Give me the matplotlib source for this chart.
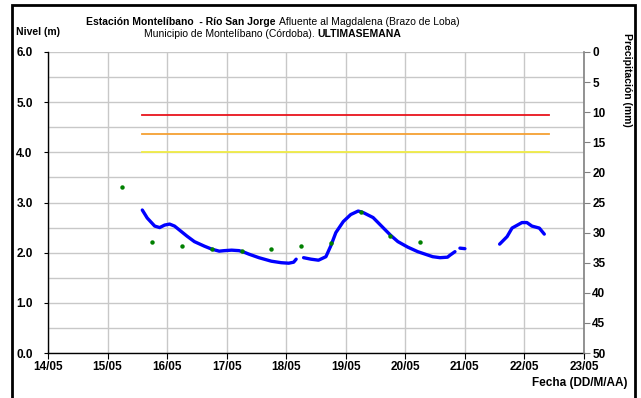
import numpy as np
import pandas as pd
import matplotlib
matplotlib.use("Agg")
import matplotlib.pyplot as plt
import matplotlib.dates as mdates
from matplotlib.patches import Rectangle

plt.rcParams['font.family'] = ['Liberation Sans', 'DejaVu Sans']

# ---- data -------------------------------------------------------------
start = pd.Timestamp("2014-05-14 00:00")

# water level (m), hours since 14/05 00:00; NaN marks gaps in the record
level_hours = [38, 40, 43, 45, 47, 49, 51, 53, 56, 59, 63, 66, 69, 71, 74, 77,
               79, 81, 85, 90, 94, 97, 99, 100, 101,
               103, 106, 109, 112, 114, 116, 119, 122, 125, 127, 131, 134, 138,
               141, 145, 149, 152, 155, 158, 161, 162, 164, 165,
               166, 168, 175,
               182, 185, 187, 191, 193, 195, 198, 200]
level_m = [2.85, 2.69, 2.53, 2.50, 2.55, 2.57, 2.53, 2.45, 2.33, 2.22, 2.13,
           2.07, 2.03, 2.04, 2.05, 2.04, 2.01, 1.97, 1.90, 1.83, 1.80, 1.79,
           1.81, 1.87, np.nan,
           1.90, 1.87, 1.85, 1.92, 2.14, 2.40, 2.62, 2.76, 2.83, 2.80, 2.70,
           2.55, 2.35, 2.22, 2.11, 2.02, 1.97, 1.92, 1.90, 1.91, 1.95, 2.02,
           np.nan,
           2.09, 2.08, np.nan,
           2.17, 2.32, 2.49, 2.60, 2.60, 2.53, 2.49, 2.37]

# staff gauge readings (m)
gauge_hours = [30, 42, 54, 66, 78, 90, 102, 114, 126, 138, 150]
gauge_m = [3.30, 2.22, 2.13, 2.07, 2.03, 2.07, 2.13, 2.19, 2.82, 2.33, 2.22]

# alert thresholds (m)
alert_names = ["roja", "naranja", "amarilla"]
alert_levels = [4.75, 4.37, 4.01]
alert_colors = ["#e8141c", "#f5a033", "#f0ec46"]
alert_span_hours = [38, 202]

day_ticks = pd.date_range("2014-05-14", "2014-05-23", freq="D")
precip_ticks = list(range(0, 55, 5))

# ---- figure -----------------------------------------------------------
W, H = 641, 398
TICK_FS = 8.5
fig = plt.figure(figsize=(W / 100, H / 100), dpi=100)
ax = fig.add_axes([48 / W, 1 - 353 / H, (584 - 48) / W, (353 - 52) / H])

t_level = start + pd.to_timedelta(level_hours, unit="h")
t_gauge = start + pd.to_timedelta(gauge_hours, unit="h")
t_alert = start + pd.to_timedelta(alert_span_hours, unit="h")

ax.set_axisbelow(True)
for lv, c in zip(alert_levels, alert_colors):
    ax.plot(t_alert, [lv, lv], color=c, lw=1.3, zorder=2)

ax.plot(t_level, level_m, color="#0000ff", lw=2.4, solid_capstyle="round",
        zorder=3)
ax.plot(t_gauge, gauge_m, "o", color="#008000", ms=3.2, mec="none", zorder=4)

ax.set_xlim(day_ticks[0], day_ticks[-1])
ax.set_ylim(0, 6)
ax.set_yticks(np.arange(0, 6.01, 1.0))
ax.set_yticks(np.arange(0, 6.01, 0.5), minor=True)
ax.yaxis.set_major_formatter(matplotlib.ticker.FormatStrFormatter("%.1f"))
ax.set_xticks(day_ticks)
ax.xaxis.set_major_formatter(mdates.DateFormatter("%d/%m"))

ax.grid(True, which="both", axis="y", color="#c8c8c8", lw=1.0)
ax.grid(True, which="major", axis="x", color="#c8c8c8", lw=1.0)

for lbl in ax.get_xticklabels() + ax.get_yticklabels():
    lbl.set_fontweight("bold")
    lbl.set_fontsize(TICK_FS)
ax.tick_params(axis="y", which="major", direction="out", length=3, width=0.8,
               pad=8, colors="black")
ax.tick_params(axis="y", which="minor", length=0)
ax.tick_params(axis="x", direction="out", length=4, width=0.8, pad=2)

ax.spines["top"].set_visible(False)
ax.spines["right"].set_visible(False)
ax.spines["left"].set_color("black")
ax.spines["bottom"].set_color("black")
ax.spines["left"].set_linewidth(1.0)
ax.spines["bottom"].set_linewidth(1.0)

# precipitation axis, inverted
ax2 = ax.twinx()
ax2.set_ylim(50, 0)
ax2.set_yticks(precip_ticks)
ax2.tick_params(axis="y", direction="out", length=4, width=0.8, pad=2,
                colors="#808080", labelcolor="black")
for lbl in ax2.get_yticklabels():
    lbl.set_fontweight("bold")
    lbl.set_fontsize(TICK_FS)
for s in ["top", "left", "bottom"]:
    ax2.spines[s].set_visible(False)
ax2.spines["right"].set_color("#808080")
ax2.spines["right"].set_linewidth(1.2)

# ---- texts ------------------------------------------------------------
def px(x, y):
    return x / W, 1 - y / H

fig.text(*px(16, 32), "Nivel (m)", fontsize=7.5, fontweight="bold",
         ha="left", va="center")
fig.text(*px(627, 80), "Precipitación (mm)", fontsize=7.5, fontweight="bold",
         rotation=270, ha="center", va="center")
fig.text(*px(628, 383), "Fecha (DD/M/AA)", fontsize=8.5, fontweight="bold",
         ha="right", va="center")


def mixed_line(parts, xc, yc):
    """Draw a centred line made of (text, weight) pieces."""
    renderer = fig.canvas.get_renderer()
    objs = []
    for txt, w in parts:
        t = fig.text(0, 0, txt, fontsize=7.5, fontweight=w, va="baseline")
        objs.append(t)
    widths = [o.get_window_extent(renderer).width for o in objs]
    x = xc - sum(widths) / 2
    for o, w in zip(objs, widths):
        o.set_position(px(x, yc))
        x += w


fig.canvas.draw()
mixed_line([("Estación Montelíbano  - Río San Jorge ", "bold"),
            ("Afluente al Magdalena (Brazo de Loba)", "normal")], 273, 25)
mixed_line([("Municipio de Montelíbano (Córdoba). ", "normal"),
            ("ULTIMASEMANA", "bold")], 273, 37)

# outer frame
fig.patches.append(Rectangle((12 / W, -0.02), (635 - 12) / W, 1 - 5 / H + 0.02,
                             transform=fig.transFigure, fill=False,
                             ec="black", lw=2.0))

fig.savefig("out.png", dpi=100)
